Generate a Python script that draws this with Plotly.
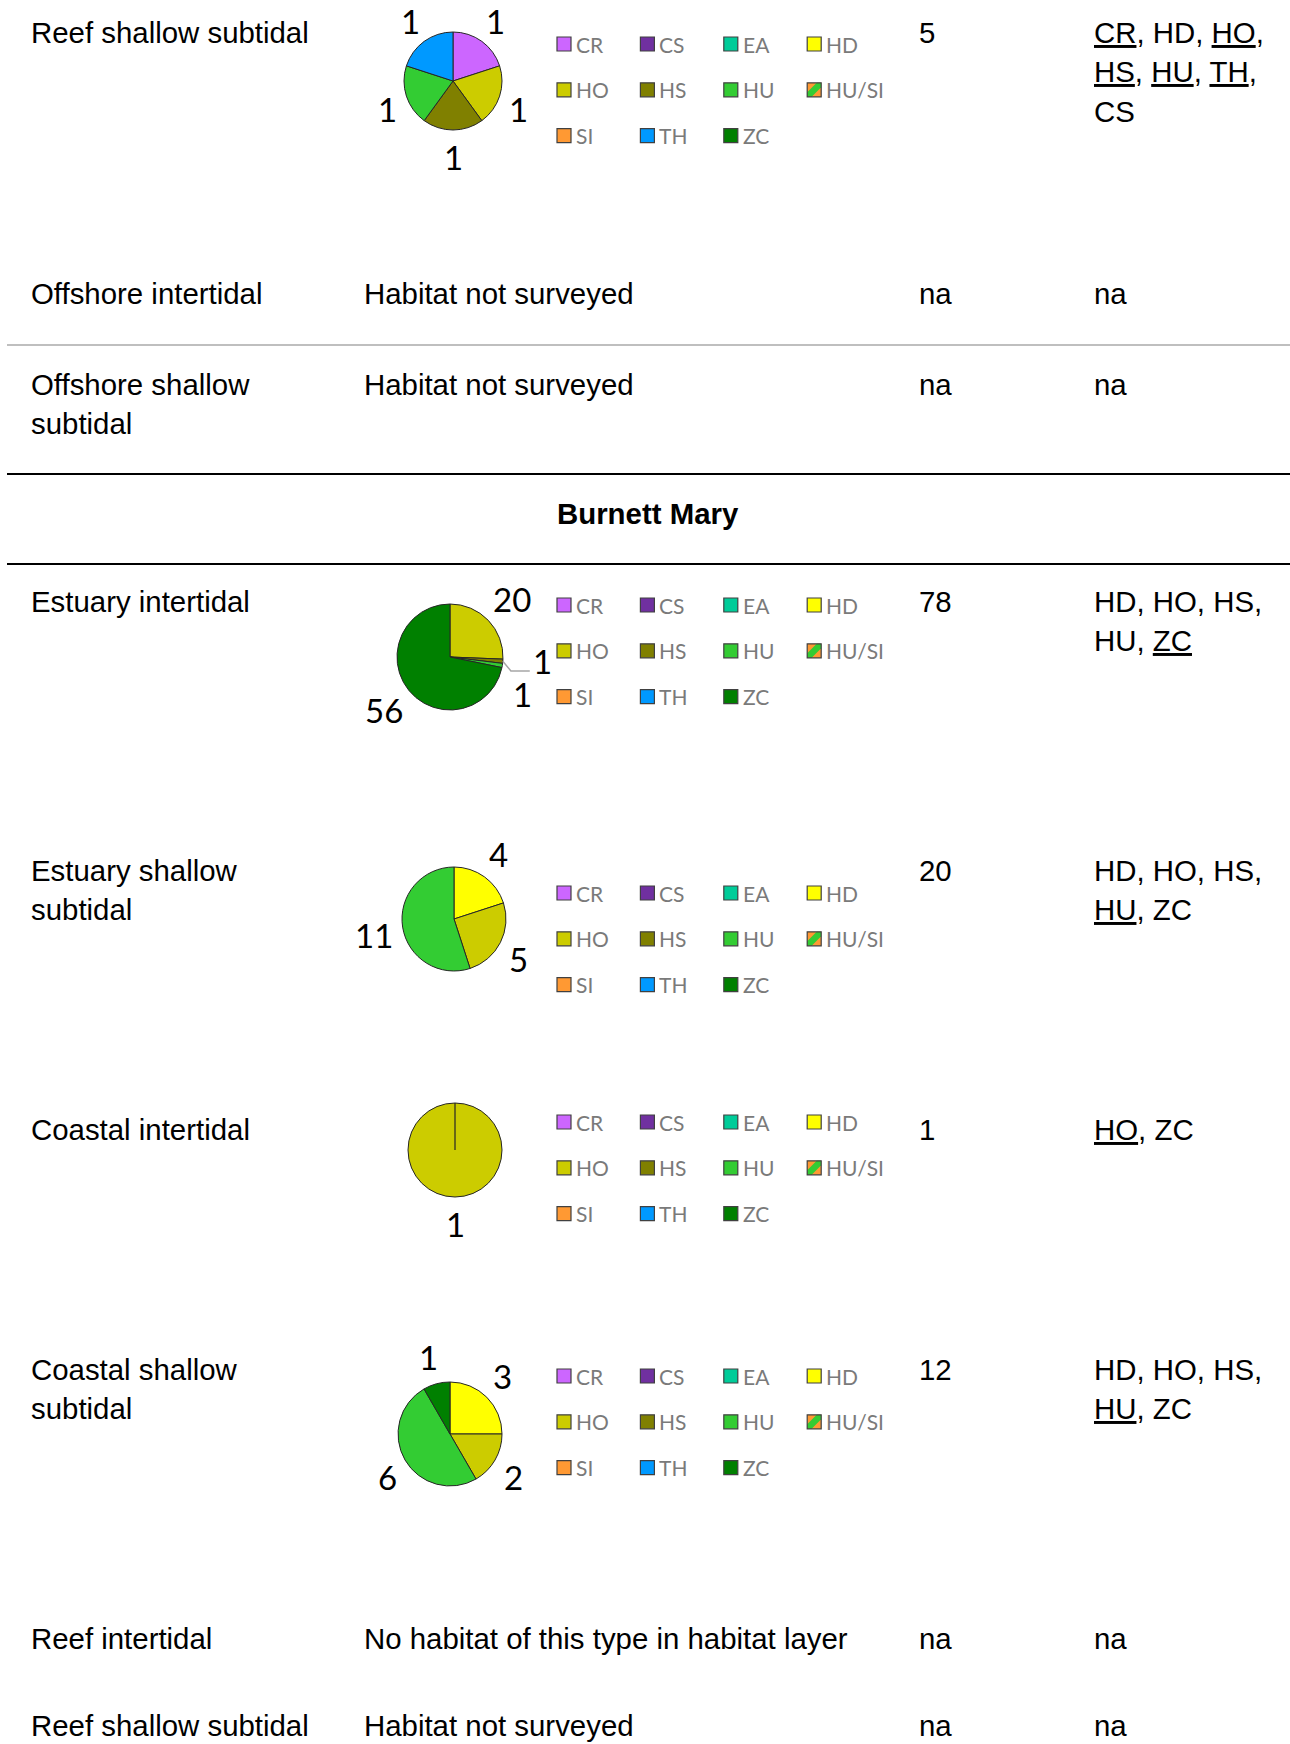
import math
import plotly.graph_objects as go

W, H = 1290, 1744

# Habitat classes and their fill colours (legend order == slice order)
habitats = ["CR", "CS", "EA", "HD", "HO", "HS", "HU", "HU/SI", "SI", "TH", "ZC"]
habitat_colors = ["#CC66FF", "#7030A0", "#00CC99", "#FFFF00", "#CCCC00",
                  "#808000", "#33CC33", "#FF9933", "#FF9933", "#0099FF", "#008000"]
stripe_color = "#33CC33"  # green band of the HU/SI swatch

# Row headings, survey status and species lists of the table
row_names = ["Reef shallow subtidal", "Offshore intertidal", "Offshore shallow<br>subtidal",
             "Estuary intertidal", "Estuary shallow<br>subtidal", "Coastal intertidal",
             "Coastal shallow<br>subtidal", "Reef intertidal", "Reef shallow subtidal"]
row_status = [None, "Habitat not surveyed", "Habitat not surveyed", None, None, None, None,
              "No habitat of this type in habitat layer", "Habitat not surveyed"]
row_species = ["<u>CR</u>, HD, <u>HO</u>,<br><u>HS</u>, <u>HU</u>, <u>TH</u>,<br>CS",
               "na", "na",
               "HD, HO, HS,<br>HU, <u>ZC</u>",
               "HD, HO, HS,<br><u>HU</u>, ZC",
               "<u>HO</u>, ZC",
               "HD, HO, HS,<br><u>HU</u>, ZC",
               "na", "na"]
section_title = "Burnett Mary"

# Site counts per habitat class (same order as `habitats`)
counts_reef_shallow = [1, 0, 0, 0, 1, 1, 1, 0, 0, 1, 0]
counts_estuary_intertidal = [0, 0, 0, 0, 20, 1, 1, 0, 0, 0, 56]
counts_estuary_shallow = [0, 0, 0, 4, 5, 0, 11, 0, 0, 0, 0]
counts_coastal_intertidal = [0, 0, 0, 0, 1, 0, 0, 0, 0, 0, 0]
counts_coastal_shallow = [0, 0, 0, 3, 2, 0, 6, 0, 0, 0, 1]

row_counts = [counts_reef_shallow, None, None, counts_estuary_intertidal,
              counts_estuary_shallow, counts_coastal_intertidal,
              counts_coastal_shallow, None, None]

# ---- layout geometry (pixels, y downwards) ----
BODY_FONT = "Liberation Sans, Arial, sans-serif"
LEG_FONT = "Lato, Carlito, Calibri, sans-serif"
FS = 29.4
LINE = 39.5
COL_X = [30, 363, 918, 1093]
row_cap_top = [23, 284, 375, 592, 861, 1120, 1360, 1629, 1716]
pie_geom = {0: (453, 81, 49), 3: (450, 657, 53), 4: (454, 919, 52),
            5: (455, 1150, 47), 6: (450, 1434, 52)}
legend_top = {0: 44, 3: 605, 4: 893, 5: 1122, 6: 1376}
LEG_X0, LEG_DX, LEG_DY, SW = 564, 83.4, 45.8, 14
PIE_LABEL_SIZE = 33

annotations = []
shapes = []


def add_text(x, cap_top, text, size=FS, color="#000000"):
    for i, line in enumerate(text.split("<br>")):
        annotations.append(dict(
            x=x, y=cap_top + i * LINE - 0.189 * size - 2.5, xref="x", yref="y",
            text=line, showarrow=False, xanchor="left", yanchor="top", borderpad=0,
            font=dict(family=BODY_FONT, size=size, color=color)))


def sgn(a):
    return 1 if a >= 0 else -1


def add_pie_labels(cx, cy, rad, vals):
    """Value labels just outside each slice, at the slice's mid angle."""
    total = sum(vals)
    cum = 0
    labs = []
    for v in vals:
        th = 2 * math.pi * (cum + v / 2) / total
        cum += v
        ux, uy = math.sin(th), -math.cos(th)
        txt = str(v)
        hw, hh = 9 * len(txt) + 1, 17
        x = cx + (rad + 10) * ux + hw * sgn(ux) * math.sqrt(abs(ux))
        y = cy + (rad + 10) * uy + hh * sgn(uy) * math.sqrt(abs(uy))
        y = max(y, 0.62 * PIE_LABEL_SIZE + 1)  # keep the label inside the page
        lab = dict(txt=txt, x=x, y=y, hw=hw, ux=ux, uy=uy, leader=False)
        if labs:
            prev = labs[-1]
            if abs(x - prev["x"]) < prev["hw"] + hw and abs(y - prev["y"]) < 34:
                # crowded thin slices: push the earlier label outwards (with a
                # leader line) and drop the next one below it
                prev["x"] += 20 * sgn(prev["ux"])
                prev["y"] -= 6
                prev["leader"] = True
                lab["y"] = prev["y"] + 33 * sgn(ux)
        labs.append(lab)
    for lab in labs:
        annotations.append(dict(
            x=lab["x"], y=lab["y"], xref="x", yref="y", text=lab["txt"], showarrow=False,
            xanchor="center", yanchor="middle", borderpad=0,
            font=dict(family=LEG_FONT, size=PIE_LABEL_SIZE, color="#000000")))
        if lab["leader"]:
            ax, ay = cx + rad * lab["ux"], cy + rad * lab["uy"]
            ex = lab["x"] - sgn(lab["ux"]) * (lab["hw"] + 3)
            ey = lab["y"] + 10
            shapes.append(dict(type="path", xref="x", yref="y",
                               path=f"M{ax},{ay} L{ax + 0.3 * (ex - ax)},{ey} L{ex},{ey}",
                               line=dict(color="#a6a6a6", width=1.5)))


fig = go.Figure()

for r, name in enumerate(row_names):
    y0 = row_cap_top[r]
    add_text(COL_X[0], y0, name)
    counts = row_counts[r]
    if counts is None:
        add_text(COL_X[1], y0, row_status[r])
        add_text(COL_X[2], y0, "na")
    else:
        add_text(COL_X[2], y0, str(sum(counts)))
        # pie of the non-empty habitat classes
        labs = [h for h, v in zip(habitats, counts) if v > 0]
        vals = [v for v in counts if v > 0]
        cols = [c for c, v in zip(habitat_colors, counts) if v > 0]
        cx, cy, rad = pie_geom[r]
        fig.add_trace(go.Pie(
            labels=labs, values=vals, sort=False, direction="clockwise", rotation=0,
            marker=dict(colors=cols, line=dict(color="#262626", width=1)),
            textinfo="none",
            domain=dict(x=[(cx - rad) / W, (cx + rad) / W],
                        y=[1 - (cy + rad) / H, 1 - (cy - rad) / H]),
            showlegend=False, hoverinfo="label+value"))
        if len(vals) == 1:
            # slice edge of a single full-circle slice
            shapes.append(dict(type="line", xref="x", yref="y", x0=cx, x1=cx,
                               y0=cy, y1=cy - rad, line=dict(color="#262626", width=1.2)))
        add_pie_labels(cx, cy, rad, vals)
        # habitat key next to the pie
        for i, (hab, col) in enumerate(zip(habitats, habitat_colors)):
            sx = LEG_X0 + (i % 4) * LEG_DX
            sy = legend_top[r] + (i // 4) * LEG_DY
            x0, x1, ya, yb = sx - SW / 2, sx + SW / 2, sy - SW / 2, sy + SW / 2
            shapes.append(dict(type="rect", xref="x", yref="y", x0=x0, x1=x1, y0=ya, y1=yb,
                               fillcolor=col, line=dict(width=0)))
            if hab == "HU/SI":
                d = 4.5
                path = (f"M{x0},{yb - d} L{x1 - d},{ya} L{x1},{ya} L{x1},{ya + d} "
                        f"L{x0 + d},{yb} L{x0},{yb} Z")
                shapes.append(dict(type="path", xref="x", yref="y", path=path,
                                   fillcolor=stripe_color, line=dict(width=0)))
            shapes.append(dict(type="rect", xref="x", yref="y", x0=x0, x1=x1, y0=ya, y1=yb,
                               fillcolor="rgba(0,0,0,0)", line=dict(color="#404040", width=1.2)))
            annotations.append(dict(
                x=x1 + 4, y=sy, xref="x", yref="y", text=hab, showarrow=False,
                xanchor="left", yanchor="middle", borderpad=0,
                font=dict(family=LEG_FONT, size=21, color="#7a7a7a")))
    add_text(COL_X[3], y0, row_species[r])

# Section heading
annotations.append(dict(x=648, y=513, xref="x", yref="y", text=f"<b>{section_title}</b>",
                        showarrow=False, xanchor="center", yanchor="middle", borderpad=0,
                        font=dict(family=BODY_FONT, size=FS, color="#000000")))

# Horizontal rules
shapes.append(dict(type="line", xref="x", yref="y", x0=7, x1=W, y0=345, y1=345,
                   line=dict(color="#bfbfbf", width=2)))
for yy in (474, 564):
    shapes.append(dict(type="line", xref="x", yref="y", x0=7, x1=W, y0=yy, y1=yy,
                       line=dict(color="#000000", width=2)))

fig.update_layout(
    width=W, height=H, margin=dict(l=0, r=0, t=0, b=0),
    paper_bgcolor="white", plot_bgcolor="white", showlegend=False,
    xaxis=dict(range=[0, W], visible=False, fixedrange=True, domain=[0, 1]),
    yaxis=dict(range=[H, 0], visible=False, fixedrange=True, domain=[0, 1]),
    annotations=annotations, shapes=shapes)

fig.write_html("out.html")
